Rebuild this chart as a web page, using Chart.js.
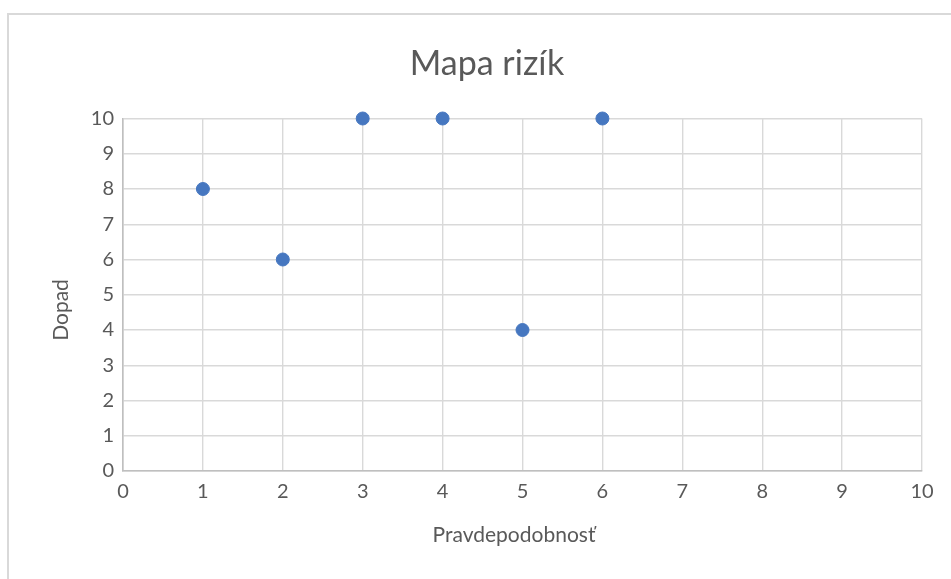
<!DOCTYPE html>
<html>
<head>
<meta charset="utf-8">
<script src="https://cdn.jsdelivr.net/npm/chart.js@4"></script>
<style>
  html, body { margin: 0; padding: 0; background: #fff; overflow: hidden; }
  #wrap { position: relative; width: 951px; height: 579px; }
  #frame { position: absolute; left: 7px; top: 13px; width: 1000px; height: 700px; border: 2px solid #d9d9d9; box-sizing: border-box; }
  canvas { position: absolute; left: 0; top: 0; }
</style>
</head>
<body>
<div id="wrap">
  <div id="frame"></div>
  <canvas id="c" width="951" height="579"></canvas>
</div>
<script>
const chartTitle = 'Mapa rizík';
const xAxisTitle = 'Pravdepodobnosť';
const yAxisTitle = 'Dopad';
const probability = [1, 2, 3, 4, 5, 6];
const impact = [8, 6, 10, 10, 4, 10];
const axisMin = 0;
const axisMax = 10;

const FONT = "Lato, 'Open Sans', sans-serif";
const TEXT = '#595959';

const points = probability.map((x, i) => ({ x: x, y: impact[i] }));

// Draws the chart title and axis titles at Excel-like positions
const titlesPlugin = {
  id: 'excelTitles',
  afterDraw(chart) {
    const ctx = chart.ctx;
    ctx.save();
    ctx.fillStyle = TEXT;
    ctx.textAlign = 'center';
    ctx.textBaseline = 'alphabetic';
    ctx.font = '34px ' + FONT;
    ctx.fillText(chartTitle, 487, 75);
    ctx.font = '21px ' + FONT;
    ctx.fillText(xAxisTitle, 514, 542);
    ctx.translate(68, 310);
    ctx.rotate(-Math.PI / 2);
    ctx.fillText(yAxisTitle, 0, 0);
    ctx.restore();
  }
};

new Chart(document.getElementById('c'), {
  type: 'scatter',
  data: {
    datasets: [{
      data: points,
      backgroundColor: '#4677c0',
      borderColor: '#4677c0',
      borderWidth: 1,
      pointRadius: 6.5,
      pointHoverRadius: 6.5,
      clip: false
    }]
  },
  options: {
    responsive: false,
    animation: false,
    events: [],
    layout: { padding: { left: 0, right: 29, top: 118.5, bottom: 0 } },
    plugins: {
      legend: { display: false },
      tooltip: { enabled: false },
      title: { display: false }
    },
    scales: {
      x: {
        type: 'linear',
        min: axisMin, max: axisMax,
        afterFit: s => { s.height = 108; },
        ticks: { stepSize: 1, color: TEXT, padding: 9, font: { family: FONT, size: 20 } },
        grid: { color: '#d9d9d9', lineWidth: 1.4, drawTicks: false },
        border: { color: '#bfbfbf', width: 1.6 }
      },
      y: {
        type: 'linear',
        min: axisMin, max: axisMax,
        afterFit: s => { s.width = 123; },
        ticks: { stepSize: 1, color: TEXT, padding: 9, font: { family: FONT, size: 20 } },
        grid: { color: '#d9d9d9', lineWidth: 1.4, drawTicks: false },
        border: { color: '#bfbfbf', width: 1.6 }
      }
    }
  },
  plugins: [titlesPlugin]
});
</script>
</body>
</html>
